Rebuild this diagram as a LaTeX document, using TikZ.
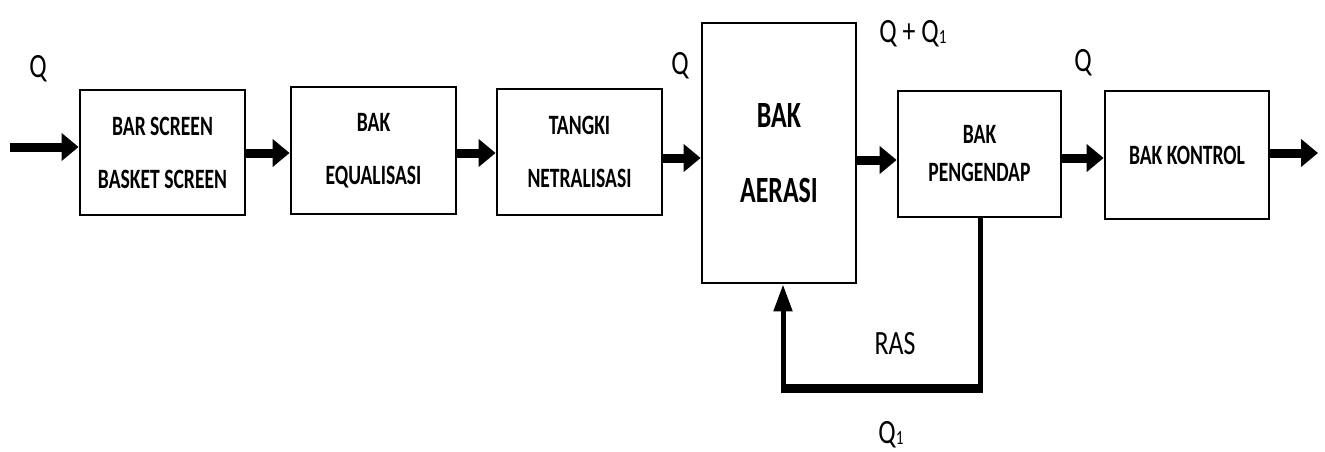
\documentclass[tikz,border=0pt]{standalone}
\usepackage{fontspec}
\setmainfont{Carlito}[FakeStretch=0.76]
\newfontfamily\boxfont{Carlito}[FakeStretch=0.70]
\usetikzlibrary{arrows.meta}
\newcommand{\subone}{\raisebox{-1pt}{\fontsize{20pt}{20pt}\selectfont 1}}
\begin{document}
\begin{tikzpicture}[x=1pt,y=-1pt,
  box/.style={draw,line width=2.8pt,align=center,font=\boxfont\fontsize{28pt}{53pt}\selectfont\bfseries},
  flow/.style={line width=9pt,-{Triangle[length=17pt,width=27pt]}},
  lab/.style={font=\fontsize{34pt}{36pt}\selectfont,inner sep=0pt}]
\useasboundingbox (0,0) rectangle (1325,452);
\node[box,minimum width=165pt,minimum height=125pt] (b1) at (162.5,152.5) {BAR SCREEN\\BASKET SCREEN};
\node[box,minimum width=165pt,minimum height=127pt] (b2) at (373.5,150.5) {BAK\\EQUALISASI};
\node[box,minimum width=165pt,minimum height=126pt] (b3) at (579.5,152) {TANGKI\\NETRALISASI};
\node[box,minimum width=154pt,minimum height=260pt,font=\boxfont\fontsize{37pt}{75pt}\selectfont\bfseries] (b4) at (779,153) {BAK\\AERASI};
\node[box,minimum width=163pt,minimum height=126pt,font=\boxfont\fontsize{28pt}{38pt}\selectfont\bfseries] (b5) at (979.5,154) {BAK\\PENGENDAP};
\node[box,minimum width=164pt,minimum height=128pt] (b6) at (1187,155) {BAK KONTROL};
\coordinate (in) at (10,147);
\coordinate (out) at (1318,153);
\coordinate (y153) at (0,153);
\coordinate (y158) at (0,158);
\coordinate (y160) at (0,160);
\coordinate (fbR) at (980,388);
\coordinate (fbL) at (783,388);
\draw[flow] (in) -- (b1.west |- in);
\draw[flow] (b1.east |- y153) -- (b2.west |- y153);
\draw[flow] (b2.east |- y153) -- (b3.west |- y153);
\draw[flow] (b3.east |- y158) -- (b4.west |- y158);
\draw[flow] (b4.east |- y160) -- (b5.west |- y160);
\draw[flow] (b5.east |- y158) -- (b6.west |- y158);
\draw[flow] (b6.east |- out) -- (out);
\draw[line width=5pt] (b5.south -| fbR) -- ([yshift=-4pt]fbR);
\draw[line width=9pt] ([xshift=2.5pt]fbR) -- ([xshift=-2.5pt]fbL);
\draw[line width=5pt,-{Triangle[length=27pt,width=18pt]}] ([yshift=-4pt]fbL) -- (b4.south -| fbL);
\node[lab] (q0) at (38,69) {Q};
\node[lab] (q1) at (680,66) {Q};
\node[lab] (q2) at (913,34) {Q + Q\subone};
\node[lab] (q3) at (1083,63) {Q};
\node[lab] (ras) at (895,344) {RAS};
\node[lab] (q4) at (891,435) {Q\subone};
\end{tikzpicture}
\end{document}
